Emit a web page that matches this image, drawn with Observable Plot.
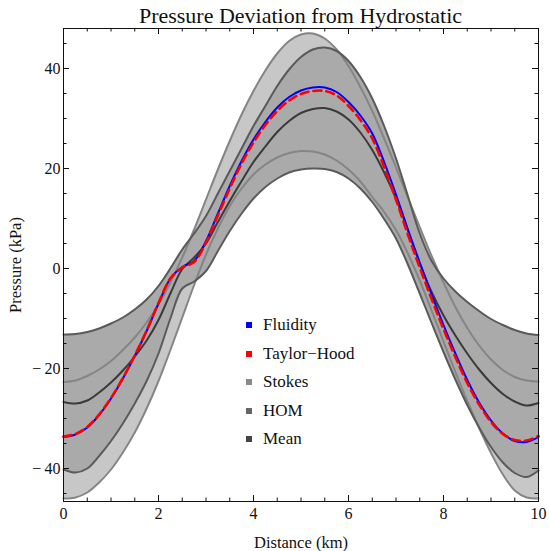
<!DOCTYPE html>
<html>
<head>
<meta charset="utf-8">
<script src="https://cdn.jsdelivr.net/npm/d3@7"></script>
<script src="https://cdn.jsdelivr.net/npm/@observablehq/plot@0.6"></script>
<style>
  html, body { margin: 0; padding: 0; background: #fff; }
  #wrap { position: relative; width: 549px; height: 551px; font-family: "Liberation Serif", "DejaVu Serif", serif; }
  #title { position: absolute; left: 0; top: 0; width: 549px; text-align: center; font-size: 22px; line-height: 22px; padding-top: 5px; color: #111; white-space: nowrap; }
  #title span { position: relative; left: 26px; }
  #legend { position: absolute; left: 246px; top: 311px; font-size: 17px; color: #111; }
  #legend .row { height: 28.5px; display: flex; align-items: center; }
  #legend .sw { width: 6px; height: 6px; margin-right: 11px; }
  svg { display: block; }
</style>
</head>
<body>
<div id="wrap">
  <div id="chart"></div>
  <div id="title"><span>Pressure Deviation from Hydrostatic</span></div>
  <div id="legend"></div>
</div>
<script>
// Distance along the flow line (km)
const distance = [0, 0.25, 0.5, 0.75, 1, 1.25, 1.5, 1.75, 2, 2.25, 2.5, 2.75, 3, 3.25, 3.5, 3.75, 4, 4.25, 4.5, 4.75, 5, 5.25, 5.5, 5.75, 6, 6.25, 6.5, 6.75, 7, 7.25, 7.5, 7.75, 8, 8.25, 8.5, 8.75, 9, 9.25, 9.5, 9.75, 10];

// Pressure deviation from hydrostatic (kPa)
const fluidity = [-33.7, -33.2, -31.8, -29.3, -26.0, -22.0, -17.5, -12.5, -7.0, -2.0, 0.3, 1.5, 5.5, 11.0, 16.5, 21.5, 25.8, 29.3, 32.2, 34.3, 35.6, 36.2, 36.2, 35.3, 33.3, 30.6, 27.0, 21.3, 14.8, 7.8, 1.2, -5.2, -11.3, -17.0, -22.3, -26.8, -30.4, -33.0, -34.5, -34.7, -33.7];
const taylorHood = [-33.6, -33.1, -31.7, -29.2, -25.9, -21.9, -17.4, -12.4, -6.9, -2.0, 0.2, 1.3, 5.2, 10.6, 16.0, 21.0, 25.2, 28.7, 31.5, 33.6, 34.9, 35.5, 35.5, 34.6, 32.5, 29.7, 26.0, 20.3, 13.8, 6.8, 0.2, -6.1, -12.1, -17.7, -22.9, -27.2, -30.7, -33.1, -34.3, -34.4, -33.5];
const stokesUpper = [-22.7, -22.4, -21.5, -20.2, -18.5, -16.3, -13.8, -10.8, -7.2, -2.8, 2.2, 7.8, 13.8, 19.8, 25.5, 30.8, 35.5, 39.6, 43.0, 45.5, 46.8, 47.0, 46.0, 43.8, 40.5, 36.3, 31.5, 26.0, 20.2, 14.2, 8.3, 2.5, -2.8, -7.7, -11.9, -15.4, -18.2, -20.3, -21.7, -22.4, -22.6];
const stokesLower = [-46.0, -45.8, -44.8, -42.8, -40.2, -36.8, -32.8, -28.0, -22.5, -16.3, -9.8, -3.3, 2.8, 8.0, 12.5, 16.0, 18.8, 20.8, 22.2, 23.1, 23.5, 23.4, 22.8, 21.6, 19.8, 17.4, 14.3, 11.3, 7.7, 3.0, -2.4, -8.4, -14.6, -20.7, -26.5, -31.9, -36.9, -41.2, -44.4, -45.8, -46.0];
const homUpper = [-13.2, -13.1, -12.7, -12.0, -11.0, -9.8, -8.2, -6.2, -3.5, 0.0, 3.8, 7.0, 10.5, 15.0, 19.5, 24.0, 28.5, 32.5, 36.5, 39.8, 42.3, 43.8, 44.2, 43.5, 41.5, 38.3, 34.0, 28.5, 22.0, 14.5, 7.0, 1.5, -2.0, -4.6, -6.7, -8.5, -10.1, -11.3, -12.3, -13.0, -13.3];
const homLower = [-40.2, -40.8, -40.0, -37.5, -34.5, -31.0, -27.0, -22.5, -17.0, -10.0, -4.0, -2.6, -0.5, 3.5, 7.5, 11.0, 14.0, 16.3, 18.0, 19.2, 19.8, 20.0, 19.9, 19.3, 18.0, 16.0, 13.3, 9.9, 6.0, 0.8, -5.0, -10.9, -16.7, -22.2, -27.3, -31.8, -35.7, -38.8, -40.9, -41.7, -40.4];
const homMean = [-26.7, -27.0, -26.4, -24.8, -22.8, -20.4, -17.6, -14.4, -10.3, -5.0, -0.1, 2.2, 5.0, 9.3, 13.5, 17.5, 21.3, 24.4, 27.3, 29.5, 31.1, 31.9, 32.1, 31.4, 29.8, 27.2, 23.7, 19.2, 14.0, 7.7, 1.0, -4.7, -9.4, -13.4, -17.0, -20.2, -22.9, -25.1, -26.6, -27.4, -26.9];

// Axis ticks
const xMajor = [0, 2, 4, 6, 8, 10];
const xMinor = [0.5, 1, 1.5, 2.5, 3, 3.5, 4.5, 5, 5.5, 6.5, 7, 7.5, 8.5, 9, 9.5];
const yMajor = [-40, -20, 0, 20, 40];
const yMinor = [-45, -35, -30, -25, -15, -10, -5, 5, 10, 15, 25, 30, 35, 45];

const seriesNames = ["Fluidity", "Taylor\u2212Hood", "Stokes", "HOM", "Mean"];
const seriesColors = ["#0000ff", "#ff0000", "#8a8a8a", "#666666", "#444444"];

const rows = distance.map((x, i) => ({
  x,
  fluidity: fluidity[i], taylorHood: taylorHood[i],
  su: stokesUpper[i], sl: stokesLower[i],
  hu: homUpper[i], hl: homLower[i], mean: homMean[i]
}));

const W = 549, H = 551;
const mt = 28, mb = 50, ml = 63, mr = 11;
const innerH = H - mt - mb, innerW = W - ml - mr;
const majorLen = 6, minorLen = 3.5;
const curve = "catmull-rom";

const minus = (v) => (v < 0 ? "\u2212\u2009" + Math.abs(v) : String(v));

const chart = Plot.plot({
  width: W, height: H,
  marginTop: mt, marginBottom: mb, marginLeft: ml, marginRight: mr,
  style: { fontFamily: "Liberation Serif, serif", fontSize: "16px", color: "#111", background: "white" },
  x: { domain: [0, 10], axis: null },
  y: { domain: [-46.6, 48], axis: null },
  marks: [
    // Stokes envelope (light) with the HOM envelope laid over it
    Plot.areaY(rows, { x: "x", y1: "sl", y2: "su", fill: "#c7c7c7", curve }),
    Plot.areaY(rows, { x: "x", y1: "hl", y2: "hu", fill: "#aaaaaa", curve }),
    Plot.lineY(rows, { x: "x", y: "su", stroke: "#858585", strokeWidth: 2, curve }),
    Plot.lineY(rows, { x: "x", y: "sl", stroke: "#858585", strokeWidth: 2, curve }),
    Plot.lineY(rows, { x: "x", y: "hu", stroke: "#5a5a5a", strokeWidth: 2, curve }),
    Plot.lineY(rows, { x: "x", y: "hl", stroke: "#5a5a5a", strokeWidth: 2, curve }),
    Plot.lineY(rows, { x: "x", y: "mean", stroke: "#3a3a3a", strokeWidth: 2, curve }),
    Plot.lineY(rows, { x: "x", y: "fluidity", stroke: "#0000ff", strokeWidth: 2, curve }),
    Plot.lineY(rows, { x: "x", y: "taylorHood", stroke: "#ff0000", strokeWidth: 2.6, strokeDasharray: "8,5", curve }),
    // Frame and inward ticks on all four sides
    Plot.frame({ stroke: "#111" }),
    Plot.tickX(xMajor, { x: d => d, insetTop: innerH - majorLen, stroke: "#111" }),
    Plot.tickX(xMajor, { x: d => d, insetBottom: innerH - majorLen, stroke: "#111" }),
    Plot.tickX(xMinor, { x: d => d, insetTop: innerH - minorLen, stroke: "#111" }),
    Plot.tickX(xMinor, { x: d => d, insetBottom: innerH - minorLen, stroke: "#111" }),
    Plot.tickY(yMajor, { y: d => d, insetRight: innerW - majorLen, stroke: "#111" }),
    Plot.tickY(yMajor, { y: d => d, insetLeft: innerW - majorLen, stroke: "#111" }),
    Plot.tickY(yMinor, { y: d => d, insetRight: innerW - minorLen, stroke: "#111" }),
    Plot.tickY(yMinor, { y: d => d, insetLeft: innerW - minorLen, stroke: "#111" }),
    // Tick labels
    Plot.axisX(xMajor, { tickSize: 0, tickPadding: 6, tickFormat: minus, fontSize: 16, label: null }),
    Plot.axisY(yMajor, { tickSize: 0, tickPadding: 3, tickFormat: minus, fontSize: 16, label: null }),
    // Axis titles
    Plot.text(["Distance (km)"], { frameAnchor: "bottom", dy: 41, fontSize: 16.5, lineAnchor: "middle", textAnchor: "middle" }),
    Plot.text(["Pressure (kPa)"], { frameAnchor: "left", dx: -48, rotate: -90, fontSize: 16.5, lineAnchor: "middle", textAnchor: "middle" })
  ]
});
document.getElementById("chart").appendChild(chart);

// Legend
const legend = document.getElementById("legend");
seriesNames.forEach((name, i) => {
  const row = document.createElement("div");
  row.className = "row";
  const sw = document.createElement("div");
  sw.className = "sw";
  sw.style.background = seriesColors[i];
  const label = document.createElement("span");
  label.textContent = name;
  row.appendChild(sw);
  row.appendChild(label);
  legend.appendChild(row);
});
</script>
</body>
</html>
